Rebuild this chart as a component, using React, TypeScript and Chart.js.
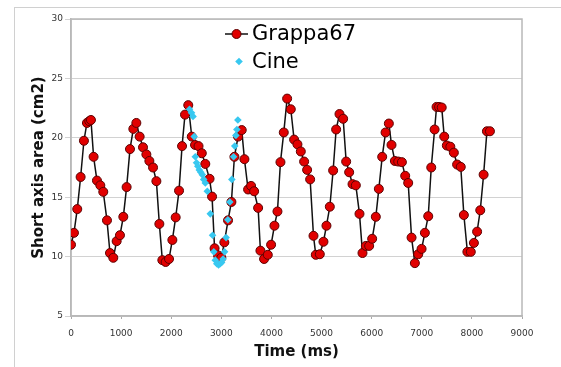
import React, { useEffect, useRef } from 'react';
import { Chart, registerables } from 'chart.js';

Chart.register(...registerables);

// Grappa67 series (time in ms, short axis area in cm2)
const grappaTime = [
  0, 59, 125, 192, 258, 318, 365, 398, 451, 518, 585, 644, 718, 778, 844, 911, 977, 1044, 1110, 1177,
  1244, 1304, 1370, 1437, 1504, 1564, 1637, 1704, 1763, 1823, 1889, 1956, 2023, 2089, 2156, 2216, 2275, 2340,
  2410, 2475, 2545, 2610, 2680, 2765, 2815, 2865, 2935, 3000, 3060, 3134, 3201, 3261, 3334, 3407, 3461, 3534,
  3594, 3654, 3734, 3780, 3853, 3927, 3993, 4060, 4120, 4180, 4246, 4313, 4386, 4452, 4519, 4586, 4652, 4712,
  4772, 4839, 4885, 4965, 5038, 5098, 5165, 5231, 5291, 5358, 5431, 5491, 5551, 5618, 5684, 5757, 5817, 5884,
  5950, 6010, 6083, 6143, 6210, 6277, 6343, 6396, 6463, 6530, 6603, 6669, 6729, 6796, 6862, 6929, 6996, 7062,
  7129, 7189, 7256, 7295, 7345, 7398, 7448, 7500, 7570, 7640, 7705, 7778, 7840, 7910, 7978, 8040, 8104, 8167,
  8234, 8300, 8360,
];
const grappaArea = [
  11.0, 12.0, 14.0, 16.7, 19.75, 21.25, 21.4, 21.5, 18.4, 16.4, 16.0, 15.45, 13.05, 10.3, 9.9, 11.3, 11.8, 13.35, 15.85, 19.05,
  20.75, 21.25, 20.1, 19.2, 18.6, 18.05, 17.5, 16.35, 12.75, 9.7, 9.55, 9.8, 11.4, 13.3, 15.55, 19.3, 21.95, 22.75,
  20.1, 19.4, 19.3, 18.7, 17.8, 16.55, 15.05, 10.7, 10.1, 9.9, 11.2, 13.05, 14.6, 18.4, 20.1, 20.65, 18.2, 15.65,
  15.95, 15.5, 14.1, 10.5, 9.8, 10.15, 11.0, 12.6, 13.8, 17.95, 20.45, 23.3, 22.4, 19.85, 19.45, 18.85, 18.0, 17.3,
  16.5, 11.75, 10.15, 10.2, 11.25, 12.6, 14.2, 17.25, 20.7, 22.0, 21.6, 18.0, 17.1, 16.1, 16.0, 13.6, 10.3, 10.9,
  10.9, 11.5, 13.35, 15.7, 18.4, 20.45, 21.2, 19.4, 18.05, 18.0, 17.95, 16.8, 16.2, 11.6, 9.45, 10.2, 10.65, 12.0,
  13.4, 17.5, 20.7, 22.6, 22.6, 22.55, 20.1, 19.35, 19.25, 18.75, 17.75, 17.55, 13.5, 10.4, 10.4, 11.15, 12.1, 13.9,
  16.9, 20.55, 20.55,
];

// Cine series
const cineTime = [
  2365, 2405, 2435, 2458, 2480, 2505, 2530, 2560, 2590, 2620, 2648, 2680, 2720, 2780, 2825, 2850,
  2880, 2910, 2945, 2975, 3005, 3035, 3065, 3095, 3130, 3170, 3210, 3245, 3268, 3290, 3310, 3330,
];
const cineArea = [
  22.4, 22.1, 21.8, 20.1, 18.4, 17.9, 17.6, 17.3, 17.1, 16.9, 16.5, 16.2, 15.5, 13.6, 11.8, 10.4,
  9.7, 9.4, 9.3, 9.4, 9.5, 9.8, 10.4, 11.6, 13.1, 14.6, 16.5, 18.4, 19.3, 20.2, 20.7, 21.5,
];

const xTicks = [0, 1000, 2000, 3000, 4000, 5000, 6000, 7000, 8000, 9000];
const yTicks = [5, 10, 15, 20, 25, 30];

const seriesNames = ['Grappa67', 'Cine'];
const axisTitles = { x: 'Time (ms)', y: 'Short axis area (cm2)' };

const FONT = '"DejaVu Sans", Verdana, sans-serif';

const framePlugin = {
  id: 'plotFrame',
  beforeDatasetsDraw(chart: any) {
    const { ctx, chartArea: a } = chart;
    ctx.save();
    ctx.strokeStyle = '#b8b8b8';
    ctx.lineWidth = 1.5;
    ctx.strokeRect(a.left, a.top, a.right - a.left, a.bottom - a.top);
    ctx.restore();
  },
};

const legendPlugin = {
  id: 'insideLegend',
  afterDraw(chart: any) {
    const { ctx } = chart;
    const ds = chart.data.datasets;
    ctx.save();
    ctx.font = `21px ${FONT}`;
    ctx.textBaseline = 'middle';
    ctx.fillStyle = '#000';
    // Row 1: line + circle
    const y1 = 34;
    ctx.strokeStyle = ds[0].borderColor;
    ctx.lineWidth = 1.5;
    ctx.beginPath();
    ctx.moveTo(225, y1);
    ctx.lineTo(248, y1);
    ctx.stroke();
    ctx.beginPath();
    ctx.arc(236.5, y1, 4.5, 0, Math.PI * 2);
    ctx.fillStyle = ds[0].pointBackgroundColor;
    ctx.fill();
    ctx.strokeStyle = ds[0].pointBorderColor;
    ctx.lineWidth = 1;
    ctx.stroke();
    ctx.fillStyle = '#000';
    ctx.fillText(ds[0].label, 252, y1 + 1);
    // Row 2: diamond
    const y2 = 61.5;
    const r = 3.8;
    ctx.beginPath();
    ctx.moveTo(239, y2 - r);
    ctx.lineTo(239 + r, y2);
    ctx.lineTo(239, y2 + r);
    ctx.lineTo(239 - r, y2);
    ctx.closePath();
    ctx.fillStyle = ds[1].pointBackgroundColor;
    ctx.fill();
    ctx.fillStyle = '#000';
    ctx.fillText(ds[1].label, 252, y2 + 1);
    ctx.restore();
  },
};

export default function App() {
  const canvasRef = useRef<HTMLCanvasElement | null>(null);

  useEffect(() => {
    const canvas = canvasRef.current;
    if (!canvas) return;
    const grappaPts = grappaTime.map((t, i) => ({ x: t, y: grappaArea[i] }));
    const cinePts = cineTime.map((t, i) => ({ x: t, y: cineArea[i] }));

    const chart = new Chart(canvas, {
      type: 'scatter',
      data: {
        datasets: [
          {
            label: seriesNames[0],
            data: grappaPts,
            showLine: true,
            borderColor: '#111111',
            borderWidth: 1.5,
            pointRadius: 4.5,
            pointBackgroundColor: '#e10000',
            pointBorderColor: '#5c0000',
            pointBorderWidth: 1,
            pointStyle: 'circle',
            order: 1,
          },
          {
            label: seriesNames[1],
            data: cinePts,
            showLine: false,
            pointRadius: 3.8,
            pointStyle: 'rectRot',
            pointBackgroundColor: '#38c8f0',
            pointBorderColor: '#38c8f0',
            pointBorderWidth: 0,
            order: 0,
          },
        ],
      },
      options: {
        responsive: false,
        animation: false,
        layout: { padding: { top: 19, right: 39, left: 0, bottom: 0 } },
        plugins: {
          legend: { display: false },
          tooltip: { enabled: false },
        },
        scales: {
          x: {
            type: 'linear',
            min: 0,
            max: 9000,
            afterBuildTicks: (s: any) => {
              s.ticks = xTicks.map((v) => ({ value: v }));
            },
            afterFit: (s: any) => {
              s.height = 51;
            },
            ticks: {
              callback: (v: any) => String(v),
              font: { family: FONT, size: 9 },
              color: '#333',
              padding: 9,
              maxRotation: 0,
            },
            grid: {
              drawOnChartArea: false,
              drawTicks: true,
              tickLength: 3,
              color: '#aaaaaa',
            },
            border: { display: true, color: '#b8b8b8', width: 1.5 },
            title: {
              display: true,
              text: axisTitles.x,
              font: { family: FONT, size: 15, weight: 'bold' },
              color: '#111',
              padding: { top: 0, bottom: 6 },
            },
          },
          y: {
            type: 'linear',
            min: 5,
            max: 30,
            afterBuildTicks: (s: any) => {
              s.ticks = yTicks.map((v) => ({ value: v }));
            },
            afterFit: (s: any) => {
              s.width = 71;
            },
            ticks: {
              callback: (v: any) => String(v),
              font: { family: FONT, size: 9 },
              color: '#333',
              padding: 2,
            },
            grid: {
              color: '#d2d2d2',
              lineWidth: 1,
              tickLength: 6,
              drawTicks: true,
            },
            border: { display: true, color: '#b8b8b8', width: 1.5 },
            title: {
              display: true,
              text: axisTitles.y,
              font: { family: FONT, size: 15, weight: 'bold' },
              color: '#111',
              padding: { top: 30, bottom: 0 },
            },
          },
        },
      },
      plugins: [framePlugin, legendPlugin],
    });

    return () => chart.destroy();
  }, []);

  return (
    <div style={{ position: 'absolute', left: 0, top: 0, width: 561, height: 367, background: '#fff' }}>
      <div
        style={{
          position: 'absolute',
          left: 14,
          top: 7,
          width: 547,
          height: 360,
          borderTop: '1px solid #d0d0d0',
          borderLeft: '1px solid #d0d0d0',
          boxSizing: 'border-box',
        }}
      />
      <canvas ref={canvasRef} width={561} height={367} style={{ position: 'absolute', left: 0, top: 0 }} />
    </div>
  );
}
